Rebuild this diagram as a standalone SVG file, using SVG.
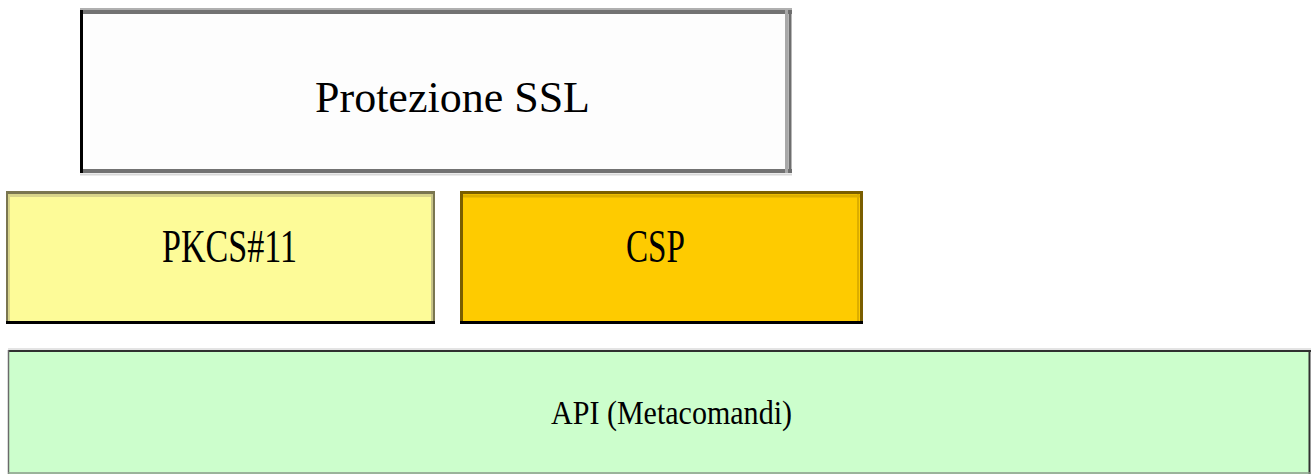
<svg xmlns="http://www.w3.org/2000/svg" width="1312" height="474" viewBox="0 0 1312 474">
  <style>
    .label { font-family: "Liberation Serif", "Times New Roman", serif; fill: #000; }
  </style>
  <rect width="1312" height="474" fill="#ffffff"/>

  <!-- Top layer: SSL protection -->
  <g id="node-ssl">
    <rect x="80" y="10" width="711" height="163" fill="#fdfdfd"/>
    <line x1="80" y1="9" x2="792" y2="9" stroke="#b0b0b0" stroke-width="2"/>
    <line x1="80" y1="12" x2="792" y2="12" stroke="#727272" stroke-width="4"/>
    <line x1="80" y1="171" x2="792" y2="171" stroke="#727272" stroke-width="4"/>
    <line x1="80" y1="174.5" x2="792" y2="174.5" stroke="#d8d8d8" stroke-width="2"/>
    <line x1="786.5" y1="10" x2="786.5" y2="173" stroke="#a8a8a8" stroke-width="3"/>
    <line x1="790" y1="10" x2="790" y2="173" stroke="#6e6e6e" stroke-width="3"/>
    <line x1="81.5" y1="10" x2="81.5" y2="173" stroke="#000" stroke-width="3"/>
    <text class="label" x="315" y="112" font-size="45" textLength="275" lengthAdjust="spacingAndGlyphs">Protezione SSL</text>
  </g>

  <!-- Middle layer: PKCS#11 -->
  <g id="node-pkcs11">
    <rect x="6" y="192" width="429" height="132" fill="#fdfb98"/>
    <line x1="6" y1="195.5" x2="435" y2="195.5" stroke="#d8d48a" stroke-width="3"/>
    <line x1="9" y1="194" x2="9" y2="322" stroke="#d8d48a" stroke-width="2"/>
    <line x1="432" y1="194" x2="432" y2="322" stroke="#c8c48a" stroke-width="2"/>
    <line x1="6" y1="192.5" x2="435" y2="192.5" stroke="#7a7650" stroke-width="3"/>
    <line x1="7" y1="192" x2="7" y2="324" stroke="#7a7650" stroke-width="2"/>
    <line x1="434" y1="192" x2="434" y2="324" stroke="#7a7650" stroke-width="2"/>
    <line x1="6" y1="322.5" x2="435" y2="322.5" stroke="#000" stroke-width="3"/>
    <text class="label" x="162" y="262" font-size="47" textLength="135" lengthAdjust="spacingAndGlyphs">PKCS#11</text>
  </g>

  <!-- Middle layer: CSP -->
  <g id="node-csp">
    <rect x="460" y="192" width="403" height="132" fill="#fecb00"/>
    <line x1="460" y1="196" x2="863" y2="196" stroke="#dcae00" stroke-width="3"/>
    <line x1="858" y1="194" x2="858" y2="322" stroke="#dcae00" stroke-width="2"/>
    <line x1="460" y1="192.5" x2="863" y2="192.5" stroke="#7a5e00" stroke-width="3"/>
    <line x1="461.5" y1="192" x2="461.5" y2="324" stroke="#7a5e00" stroke-width="3"/>
    <line x1="861.5" y1="192" x2="861.5" y2="324" stroke="#7a5e00" stroke-width="3"/>
    <line x1="460" y1="322.5" x2="863" y2="322.5" stroke="#000" stroke-width="3"/>
    <text class="label" x="626" y="262" font-size="47" textLength="59" lengthAdjust="spacingAndGlyphs">CSP</text>
  </g>

  <!-- Bottom layer: API -->
  <g id="node-api">
    <rect x="8" y="350" width="1302" height="124" fill="#ccfecc"/>
    <line x1="8" y1="349" x2="1311" y2="349" stroke="#c8c8c8" stroke-width="1"/>
    <line x1="8" y1="351" x2="1311" y2="351" stroke="#303030" stroke-width="2"/>
    <line x1="8.5" y1="350" x2="8.5" y2="474" stroke="#6a6a6a" stroke-width="1.5"/>
    <line x1="1309.5" y1="350" x2="1309.5" y2="474" stroke="#303030" stroke-width="2"/>
    <line x1="8" y1="473" x2="1311" y2="473" stroke="#8a9a8a" stroke-width="1.5"/>
    <text class="label" x="551" y="424" font-size="34" textLength="241" lengthAdjust="spacingAndGlyphs">API (Metacomandi)</text>
  </g>

  <!-- the layer stack has no connectors -->
  <g id="connectors"/>
</svg>
